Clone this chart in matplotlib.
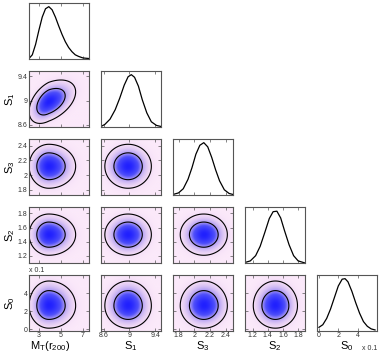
import numpy as np
import matplotlib
matplotlib.use("Agg")
import matplotlib.pyplot as plt
from matplotlib.colors import LinearSegmentedColormap

plt.rcParams['font.family'] = ['Liberation Sans', 'DejaVu Sans']
plt.rcParams['mathtext.fontset'] = 'custom'
plt.rcParams['mathtext.rm'] = 'Liberation Sans'
plt.rcParams['mathtext.it'] = 'Liberation Sans'

W, H = 382, 354

# parameters, in plotting order
labels = ["M$_{\\mathrm{T}}$(r$_{200}$)", "S$_{1}$", "S$_{3}$", "S$_{2}$", "S$_{0}$"]
limits = [(2.1, 7.55), (8.56, 9.49), (1.73, 2.49), (1.1, 1.89), (-0.2, 6.0)]
ticks = [[3, 5, 7], [8.6, 9, 9.4], [1.8, 2, 2.2, 2.4], [1.2, 1.4, 1.6, 1.8], [0, 2, 4]]
tick_labels = [["3", "5", "7"], ["8.6", "9", "9.4"], ["1.8", "2", "2.2", "2.4"],
               ["1.2", "1.4", "1.6", "1.8"], ["0", "2", "4"]]

# 1D marginals (peak = 1)
mt_x = [2.1, 2.4, 2.7, 3.0, 3.3, 3.6, 3.9, 4.2, 4.5, 4.8, 5.1, 5.4, 5.7, 6.0, 6.3, 6.6, 7.0, 7.5]
mt_y = [0.01, 0.08, 0.28, 0.55, 0.8, 0.96, 1.0, 0.94, 0.8, 0.63, 0.47, 0.33, 0.22, 0.14, 0.08, 0.05, 0.02, 0.01]
s1_x = [8.56, 8.62, 8.7, 8.78, 8.85, 8.92, 8.98, 9.03, 9.08, 9.14, 9.2, 9.27, 9.34, 9.42, 9.49]
s1_y = [0.01, 0.05, 0.15, 0.33, 0.55, 0.8, 0.96, 1.0, 0.95, 0.78, 0.52, 0.27, 0.1, 0.03, 0.01]
s3_x = [1.73, 1.8, 1.86, 1.92, 1.97, 2.02, 2.07, 2.12, 2.17, 2.22, 2.27, 2.32, 2.38, 2.44, 2.49]
s3_y = [0.01, 0.04, 0.12, 0.3, 0.52, 0.78, 0.95, 1.0, 0.92, 0.72, 0.48, 0.27, 0.1, 0.03, 0.01]
s2_x = [1.1, 1.17, 1.24, 1.3, 1.36, 1.42, 1.47, 1.52, 1.57, 1.62, 1.68, 1.74, 1.8, 1.89]
s2_y = [0.01, 0.04, 0.14, 0.32, 0.58, 0.85, 0.98, 0.99, 0.86, 0.62, 0.35, 0.14, 0.04, 0.0]
s0_x = [0, 0.4, 0.8, 1.2, 1.6, 2.0, 2.4, 2.7, 3.0, 3.4, 3.8, 4.2, 4.6, 5.0, 5.4, 5.8]
s0_y = [0.07, 0.12, 0.24, 0.42, 0.64, 0.86, 0.99, 1.0, 0.94, 0.76, 0.54, 0.34, 0.18, 0.09, 0.04, 0.02]
marg_x = [mt_x, s1_x, s3_x, s2_x, s0_x]
marg_y = [mt_y, s1_y, s3_y, s2_y, s0_y]

# 2D posterior shape: centre, width below / above centre, M_T-S1 correlation
centres = [3.9, 8.98, 2.12, 1.5, 2.6]
sig_lo = [0.72, 0.145, 0.12, 0.117, 1.0]
sig_hi = [0.98, 0.145, 0.12, 0.117, 1.1]
rho_mt_s1 = 0.45

cmap = LinearSegmentedColormap.from_list(
    "post", [(0.0, "#fbe9fa"), (0.06, "#f0d8f5"), (0.3, "#b3a0f3"),
             (0.55, "#5050f9"), (1.0, "#2020ff")])

fig = plt.figure(figsize=(W / 100, H / 100), dpi=100)

col_left = [29, 101, 173, 245, 317]
row_top = [3, 71, 139, 207, 275]
pw, ph = 60, 56


def std(v, k):
    d = v - centres[k]
    return np.where(d < 0, d / sig_lo[k], d / sig_hi[k])


def style(ax, i, j):
    for s in ax.spines.values():
        s.set_color("#555555")
        s.set_linewidth(0.8)
    ax.tick_params(direction="in", length=2, width=0.5, color="#555555",
                   top=True, right=True, labelsize=5, labelcolor="#333333", pad=1)
    ax.set_xlim(limits[j])
    ax.set_xticks(ticks[j])
    if i == 4:
        ax.set_xticklabels(tick_labels[j])
    else:
        ax.set_xticklabels([])


n = len(labels)
for i in range(n):
    for j in range(i + 1):
        ax = fig.add_axes([col_left[j] / W, 1 - (row_top[i] + ph) / H, pw / W, ph / H])
        style(ax, i, j)
        if i == j:
            ax.plot(marg_x[i], marg_y[i], color="black", lw=0.9)
            ax.set_ylim(0, 1.07)
            ax.set_yticks([])
        else:
            xs = np.linspace(limits[j][0], limits[j][1], 200)
            ys = np.linspace(limits[i][0], limits[i][1], 200)
            X, Y = np.meshgrid(xs, ys)
            u, v = std(X, j), std(Y, i)
            rho = rho_mt_s1 if (j, i) == (0, 1) else 0.0
            Q = (u ** 2 - 2 * rho * u * v + v ** 2) / (1 - rho ** 2)
            dens = np.exp(-Q / 2)
            ax.imshow(dens, extent=[xs[0], xs[-1], ys[0], ys[-1]], origin="lower",
                      aspect="auto", cmap=cmap, vmin=0, vmax=1, interpolation="bilinear")
            ax.contour(X, Y, dens, levels=[np.exp(-6.18 / 2), np.exp(-2.30 / 2)],
                       colors="black", linewidths=0.8)
            ax.set_ylim(limits[i])
            ax.set_yticks(ticks[i])
            if j == 0:
                ax.set_yticklabels(tick_labels[i])
            else:
                ax.set_yticklabels([])

# axis labels
for i in range(1, n):
    yc = row_top[i] + ph / 2
    fig.text(10 / W, 1 - yc / H, labels[i], rotation=90, fontsize=8,
             ha="center", va="center")
xl_centre = [50, 131, 203, 275, 347]
for j in range(n):
    fig.text(xl_centre[j] / W, 1 / H, labels[j], fontsize=8,
             ha="center", va="bottom")

fig.text(29 / W, 1 - 270 / H, "x 0.1", fontsize=5, color="#333333", ha="left", va="center")
fig.text(362 / W, 1 - 349 / H, "x 0.1", fontsize=5, color="#333333", ha="left", va="center")

fig.savefig("out.png", dpi=100)
